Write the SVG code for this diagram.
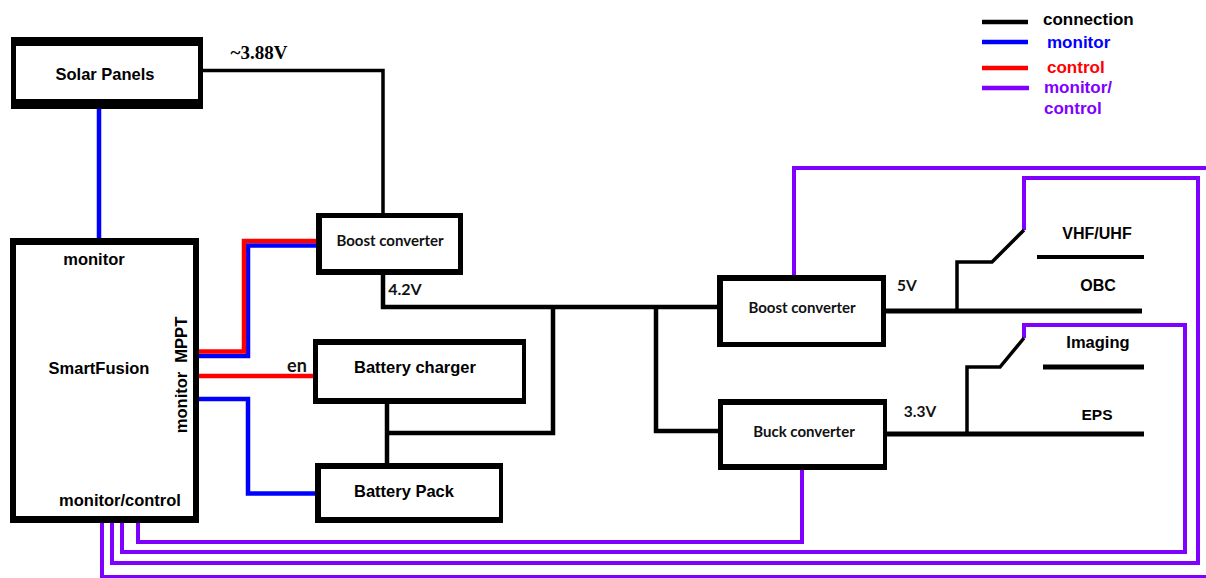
<svg xmlns="http://www.w3.org/2000/svg" width="1206" height="578" viewBox="0 0 1206 578">
<style>
.bg{fill:#ffffff}
.outer{fill:#000000}
.inner{fill:#ffffff}
.t{font-family:"Liberation Sans",Arial,sans-serif;font-weight:bold;fill:#000;text-anchor:middle}
.c{font-family:Lato,"Liberation Sans",sans-serif;font-weight:bold;fill:#111;text-anchor:middle}
.s{font-family:"Liberation Serif","Times New Roman",serif;font-weight:bold;fill:#000;text-anchor:middle}
.lg{font-family:"Liberation Sans",Arial,sans-serif;font-weight:bold;font-size:17px}
.k{fill:none;stroke:#000;stroke-linejoin:miter;stroke-linecap:butt}
.b{fill:none;stroke:#0000ff;stroke-width:4.5}
.r{fill:none;stroke:#ff0000;stroke-width:4.5}
.p{fill:none;stroke:#8000ff;stroke-width:4}
</style>
<rect class="bg" x="0" y="0" width="1206" height="578"/>

<g id="connectors">
  <!-- monitor / control purple -->
  <path class="p" d="M802,470 V542 H138 V523"/>
  <path class="p" d="M1024,338 V325 H1185 V552 H122 V523"/>
  <path class="p" d="M1024,230 V178 H1198 V563 H112 V523"/>
  <path class="p" d="M794,275 V168 H1212 V577 H102 V523"/>
  <!-- monitor blue -->
  <path class="b" d="M99,109 V238"/>
  <path class="b" d="M199,356 H248 V245.5 H316"/>
  <path class="b" d="M199,399 H248 V493.5 H315"/>
  <!-- control red -->
  <path class="r" d="M199,351.5 H244 V241 H316"/>
  <path class="r" d="M199,376 H313"/>
  <!-- black connections -->
  <path class="k" stroke-width="3.5" d="M203,70.5 H383 V213"/>
  <path class="k" stroke-width="4.5" d="M383,275 V307 H717"/>
  <path class="k" stroke-width="4.5" d="M553,307 V433 H387"/>
  <path class="k" stroke-width="4.5" d="M387,404 V463"/>
  <path class="k" stroke-width="4.5" d="M656,307 V431 H718"/>
  <path class="k" stroke-width="5" d="M886,311 H1142"/>
  <path class="k" stroke-width="3.5" d="M957,311 V262 H992 L1024,230"/>
  <path class="k" stroke-width="4" d="M1037,257 H1144"/>
  <path class="k" stroke-width="5" d="M887,434 H1144"/>
  <path class="k" stroke-width="3.5" d="M967,434 V367 H1000 L1024,338"/>
  <path class="k" stroke-width="5" d="M1043,367 H1144"/>
  <text class="s" x="259" y="59" font-size="19">~3.88V</text>
  <text class="c" x="405" y="295" font-size="16">4.2V</text>
  <text class="c" x="297" y="372" font-size="18">en</text>
  <text class="c" x="907" y="291" font-size="15.5">5V</text>
  <text class="c" x="920" y="417" font-size="15.5">3.3V</text>
</g>

<g id="solar-panels">
  <rect class="outer" x="11" y="37" width="192" height="72"/>
  <rect class="inner" x="16" y="46" width="182" height="53"/>
  <text class="t" x="105" y="80" font-size="16.5">Solar Panels</text>
</g>

<g id="smartfusion">
  <rect class="outer" x="10" y="238" width="189" height="285"/>
  <rect class="inner" x="16" y="245" width="177" height="271"/>
  <text class="t" x="94" y="265" font-size="16.5">monitor</text>
  <text class="t" x="99" y="374" font-size="16.5">SmartFusion</text>
  <text class="t" x="120" y="506" font-size="16.5">monitor/control</text>
  <text class="t" font-size="16.5" transform="translate(187,375) rotate(-90)">monitor&#160; MPPT</text>
</g>

<g id="boost-converter-1">
  <rect class="outer" x="316" y="213" width="147" height="62"/>
  <rect class="inner" x="322" y="218" width="136" height="51"/>
  <text class="c" x="390" y="246" font-size="15">Boost converter</text>
</g>

<g id="battery-charger">
  <rect class="outer" x="313" y="339" width="213" height="65"/>
  <rect class="inner" x="318" y="345" width="204" height="53"/>
  <text class="t" x="415" y="373" font-size="16.5">Battery charger</text>
</g>

<g id="battery-pack">
  <rect class="outer" x="315" y="463" width="188" height="60"/>
  <rect class="inner" x="321" y="469" width="178" height="48"/>
  <text class="t" x="404" y="497" font-size="16.5">Battery Pack</text>
</g>

<g id="boost-converter-2">
  <rect class="outer" x="717" y="275" width="169" height="72"/>
  <rect class="inner" x="723" y="281" width="158" height="61"/>
  <text class="c" x="802" y="313" font-size="15">Boost converter</text>
</g>

<g id="buck-converter">
  <rect class="outer" x="718" y="399" width="169" height="71"/>
  <rect class="inner" x="723" y="405" width="160" height="59"/>
  <text class="c" x="804" y="437" font-size="15">Buck converter</text>
</g>

<g id="vhf-uhf">
  <text class="t" x="1097" y="239" font-size="16">VHF/UHF</text>
</g>
<g id="obc">
  <text class="t" x="1098" y="291" font-size="16">OBC</text>
</g>
<g id="imaging">
  <text class="t" x="1098" y="348" font-size="16.5">Imaging</text>
</g>
<g id="eps">
  <text class="t" x="1097" y="420" font-size="15.5">EPS</text>
</g>

<g id="legend">
  <path d="M982,22 H1028" stroke="#000" stroke-width="4.5"/>
  <path d="M982,42 H1028" stroke="#0000ff" stroke-width="4.5"/>
  <path d="M982,68 H1028" stroke="#ff0000" stroke-width="4.5"/>
  <path d="M982,88 H1029" stroke="#8000ff" stroke-width="4.5"/>
  <text class="lg" x="1043" y="25" fill="#000">connection</text>
  <text class="lg" x="1047" y="48" fill="#0000ff">monitor</text>
  <text class="lg" x="1047" y="73" fill="#ff0000">control</text>
  <text class="lg" x="1044" y="93" fill="#8000ff">monitor/</text>
  <text class="lg" x="1044" y="114" fill="#8000ff">control</text>
</g>
</svg>
